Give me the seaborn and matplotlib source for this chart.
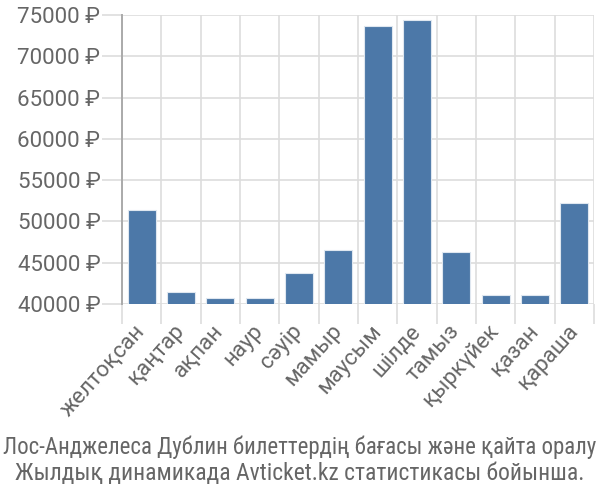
import matplotlib
matplotlib.use('Agg')
import matplotlib.pyplot as plt
from matplotlib import font_manager as fm
import seaborn as sns
import pandas as pd
import numpy as np

months = ["желтоқсан", "қаңтар", "ақпан", "наур", "сәуір", "мамыр",
          "маусым", "шілде", "тамыз", "қыркүйек", "қазан", "қараша"]
prices = [51350, 41420, 40730, 40730, 43790, 46500,
          73670, 74360, 46330, 41090, 41090, 52230]
yticks = [40000, 45000, 50000, 55000, 60000, 65000, 70000, 75000]
title_lines = ["Лос-Анджелеса Дублин билеттердің бағасы және қайта оралу",
               "Жылдық динамикада Avticket.kz статистикасы бойынша."]

sns.set_theme(style='white')
plt.rcParams['font.family'] = ['Roboto', 'DejaVu Sans']


def pick_narrow():
    cands = [
        (dict(family='Liberation Sans Narrow'), 'Narrow',
         dict(family=['Liberation Sans Narrow', 'DejaVu Sans'])),
        (dict(family='Roboto Condensed'), 'Condensed',
         dict(family=['Roboto Condensed', 'DejaVu Sans'])),
        (dict(family='Roboto', stretch='condensed'), 'Condensed',
         dict(family=['Roboto', 'DejaVu Sans'], stretch='condensed')),
        (dict(family='DejaVu Sans', stretch='condensed'), 'Condensed',
         dict(family=['DejaVu Sans'], stretch='condensed')),
    ]
    for props, key, out in cands:
        try:
            f = fm.findfont(fm.FontProperties(**props), fallback_to_default=False)
            if key in f:
                return out
        except Exception:
            pass
    return dict(family=['Roboto', 'DejaVu Sans'])


narrow = pick_narrow()

fig = plt.figure(figsize=(6, 5), dpi=100)
ax = fig.add_axes([122 / 600, 1 - 304 / 500, 472 / 600, 289 / 500])
df = pd.DataFrame({'month': months, 'price': prices})
sns.barplot(data=df, x='month', y='price', color='#4c78a8', saturation=1,
            width=0.72, edgecolor='#dfe7f0', linewidth=0.8, ax=ax, zorder=3)
ax.set_ylim(yticks[0], yticks[-1])
ax.set_xlim(-0.5, len(months) - 0.5)
ax.set_xlabel('')
ax.set_ylabel('')

grid_c = '#dddddd'
text_c = '#666666'

ax.set_yticks(yticks)
ax.set_yticklabels([f"{v} ₽" for v in yticks])
ax.tick_params(axis='y', which='major', left=True, length=14.5, width=1.2,
               color=grid_c, labelsize=16, labelcolor=text_c, pad=1)
ax.grid(axis='y', which='major', color=grid_c, linewidth=1.2, zorder=0)

ax.set_xticks(range(len(months)))
ax.set_xticklabels(months, rotation=48, ha='right', va='center',
                   rotation_mode='anchor')
ax.set_xticks(np.arange(-0.5, len(months), 1.0), minor=True)
ax.tick_params(axis='x', which='major', length=0, labelsize=16,
               labelcolor=text_c, pad=17)
ax.tick_params(axis='x', which='minor', bottom=True, length=14.5, width=1.2,
               color=grid_c)
ax.grid(axis='x', which='minor', color=grid_c, linewidth=1.2, zorder=0)
ax.set_axisbelow(True)

for s in ['top', 'right', 'bottom']:
    ax.spines[s].set_visible(False)
ax.spines['left'].set_color('#aaaaaa')
ax.spines['left'].set_linewidth(1.4)

t1 = fig.text(0.5, 1 - 447 / 500, title_lines[0], ha='center', va='center',
              fontsize=15, color=text_c, **narrow)
t2 = fig.text(0.5, 1 - 474 / 500, title_lines[1], ha='center', va='center',
              fontsize=15, color=text_c, **narrow)
fig.canvas.draw()
r = fig.canvas.get_renderer()
for t in (t1, t2):
    w = t.get_window_extent(r).width
    t.set_fontsize(min(15 * 594 / w, 17))

fig.savefig('out.png', dpi=100)
